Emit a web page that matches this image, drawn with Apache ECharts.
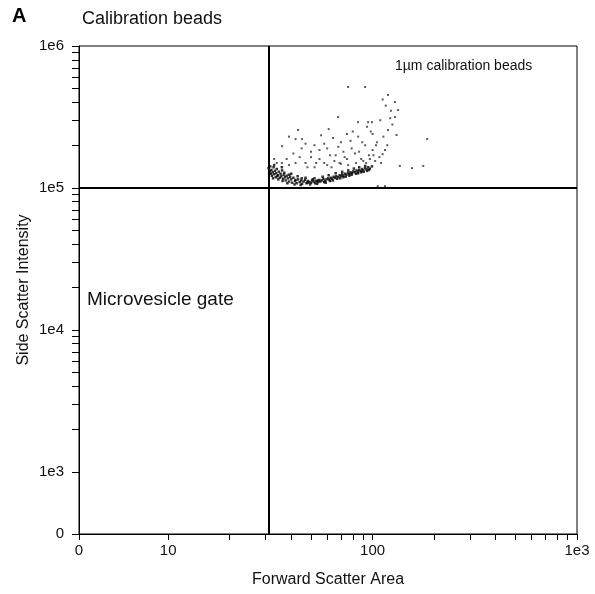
<!DOCTYPE html>
<html>
<head>
<meta charset="utf-8">
<script src="https://cdn.jsdelivr.net/npm/echarts@6/dist/echarts.min.js"></script>
<style>html,body{margin:0;padding:0;background:#fff;}#c{width:595px;height:594px;}</style>
</head>
<body>
<div id="c"></div>
<script>
// ---- data (Forward Scatter Area, Side Scatter Intensity) ----
var xTickLabels = ['0', '10', '100', '1e3'];
var xTickValues = [0, 10, 100, 1000];
var yTickLabels = ['0', '1e3', '1e4', '1e5', '1e6'];
var yTickValues = [0, 1000, 10000, 100000, 1000000];
var gateFSC = 31;
var gateSSC = 100000;

var denseEvents = [
[31.0,138000],[31.5,131000],[31.8,126000],[32.0,134000],[32.2,122000],[32.5,129000],[32.8,140000],[33.0,125000],[33.3,132000],[33.6,119000],[33.8,127000],[34.0,136000],[34.5,123000],[34.8,130000],[35.2,118000],[35.5,126000],[35.8,121000],[36.1,133000],[36.5,116000],[36.8,124000],[37.3,119000],[37.6,113000],[38.0,122000],[38.6,117000],[39.0,111000],[39.5,120000],[40.0,115000],[40.4,109000],[41.0,118000],[41.8,112000],[42.5,108000],[43.2,115000],[44.0,110000],[44.8,113000],[45.2,107000],[46.0,111000],[46.8,114000],[47.5,108000],[48.3,112000],[49.0,110000],[50.0,109000],[50.6,113000],[51.5,111000],[52.3,108000],[53.0,112000],[54.1,110000],[55.0,114000],[55.5,111000],[56.6,113000],[57.5,116000],[58.6,112000],[59.5,115000],[60.6,117000],[61.5,114000],[62.5,118000],[63.4,116000],[64.5,120000],[65.5,118000],[66.5,121000],[67.8,119000],[69.0,123000],[70.0,121000],[71.0,125000],[72.0,122000],[73.3,126000],[74.5,124000],[75.9,128000],[77.0,125000],[78.0,129000],[79.4,127000],[80.5,131000],[82.0,129000],[83.5,133000],[84.9,130000],[86.0,134000],[87.5,132000],[88.9,136000],[90.0,133000],[91.9,138000],[93.5,135000],[95.1,140000],[97.0,137000],[99.3,142000],
[33.0,145000],[36.0,140000],[40.0,126000],[43.0,121000],[47.0,118000],[52.0,117000],[57.0,120000],[61.0,123000],[66.0,127000],[71.0,130000],[76.0,133000],[81.0,137000],[86.0,140000],[92.0,143000],
[31.2,128000],[34.2,121000],[37.0,128000],[39.0,124000],[42.0,114000],[45.0,117000],[48.0,109000],[51.0,115000],[54.0,113000],[58.0,110000],[62.0,112000],[67.0,116000],[72.0,119000],[77.0,122000],[83.0,126000],[88.0,129000],[94.0,132000],
[31.6,142000],[32.6,117000],[34.6,115000],[36.3,112000],[38.3,108000],[41.5,106000],[44.5,105000],[49.5,106000],[53.5,107000],[59.0,109000],[64.0,113000],[69.5,117000],[74.0,120000],[79.0,124000],[85.0,127000],[90.5,130000],[96.0,134000]
];

var sparseEvents = [
[75.9,514000],[91.9,514000],[119,452000],[128.8,403000],[133.3,354000],[128.8,316000],[67.8,316000],[84.9,291000],[95.1,291000],[99.3,291000],[43.2,256000],[42.0,221000],[45.2,221000],[36.1,197000],[185,221000],[136,143000],[156,138000],[177,143000],[106,103000],[115,103000],[119,256000],[131,236000],[115,185000],[112,173000],[105,210000],[100,240000],[109,300000],[123,350000],[112,420000],[38,160000],[41,175000],[45,190000],[50,165000],[55,185000],[58,205000],[62,170000],[65,155000],[68,195000],[72,180000],[75,160000],[78,215000],[82,175000],[88,160000],[92,200000],[96,170000],[100,185000],[103,155000],[108,165000],[53,150000],[60,145000],[70,148000],[34,150000],[48,140000],[56,235000],[64,225000],[80,250000],[85,230000],[90,155000],[98,250000],
[33,160000],[36,150000],[39,145000],[42,150000],[44,165000],[47,150000],[50,180000],[52,140000],[55,160000],[58,150000],[60,190000],[63,140000],[66,170000],[69,150000],[73,165000],[76,145000],[79,190000],[83,150000],[86,180000],[89,210000],[93,150000],[97,160000],[101,170000],[104,200000],[110,150000],[113,230000],[118,200000],[125,280000],[122,310000],[116,380000],[39,230000],[47,205000],[52,200000],[70,210000],[75,240000],[94,270000],[61,260000]
];

// ---- display transform (biexponential-like cytometry scales) ----
function fx(v) { return v >= 10 ? Math.log10(v) - 0.564 : v * 0.0436; }
function fy(v) { return v >= 1000 ? Math.log10(v) - 2.563 : v * 0.000437; }

function minorTicks(decades) {
  var out = [];
  decades.forEach(function (d) { for (var k = 1; k <= 9; k++) out.push(k * d); });
  return out;
}
var xTickPositions = [0].concat(minorTicks([10, 100]), [1000]).map(fx);
var yTickPositions = [0].concat(minorTicks([1000, 10000, 100000]), [1000000]).map(fy);

function toDisplay(arr) { return arr.map(function (p) { return [fx(p[0]), fy(p[1])]; }); }

function labelFor(val, values, labels, f) {
  for (var i = 0; i < values.length; i++) if (Math.abs(f(values[i]) - val) < 1e-6) return labels[i];
  return '';
}

var chart = echarts.init(document.getElementById('c'), null, { renderer: 'canvas' });
var font = 'Liberation Sans, Arial, sans-serif';
chart.setOption({
  animation: false,
  backgroundColor: '#fff',
  grid: { left: 79, right: 18, top: 46, bottom: 60, show: true, borderColor: '#000', borderWidth: 1, backgroundColor: 'transparent' },
  xAxis: {
    type: 'value', min: 0, max: fx(1000),
    name: 'Forward Scatter Area', nameLocation: 'middle', nameGap: 38,
    nameTextStyle: { color: '#111', fontSize: 16, fontFamily: font },
    axisLine: { show: true, onZero: false, lineStyle: { color: '#000', width: 1 } },
    axisTick: { show: true, length: 6, customValues: xTickPositions, lineStyle: { color: '#000' } },
    axisLabel: { color: '#111', fontSize: 15, fontFamily: font, margin: 9,
      customValues: xTickValues.map(fx),
      formatter: function (v) { return labelFor(v, xTickValues, xTickLabels, fx); } },
    splitLine: { show: false }
  },
  yAxis: {
    type: 'value', min: 0, max: fy(1000000),
    name: 'Side Scatter Intensity', nameLocation: 'middle', nameGap: 47, nameRotate: 90,
    nameMoveOverlap: false,
    nameTextStyle: { color: '#111', fontSize: 16, fontFamily: font },
    axisLine: { show: true, onZero: false, lineStyle: { color: '#000', width: 1 } },
    axisTick: { show: true, length: 7, customValues: yTickPositions, lineStyle: { color: '#000' } },
    axisLabel: { color: '#111', fontSize: 15, fontFamily: font, margin: 15,
      customValues: yTickValues.map(fy),
      formatter: function (v) { return labelFor(v, yTickValues, yTickLabels, fy); } },
    splitLine: { show: false }
  },
  series: [
    {
      type: 'scatter', name: 'sparse', symbol: 'rect', symbolSize: 2,
      itemStyle: { color: '#333' },
      data: toDisplay(sparseEvents)
    },
    {
      type: 'scatter', name: 'dense', symbol: 'rect', symbolSize: 2.5,
      itemStyle: { color: '#000' },
      data: toDisplay(denseEvents),
      markLine: {
        silent: true, symbol: 'none', label: { show: false },
        lineStyle: { color: '#000', width: 2, type: 'solid' },
        data: [ { xAxis: fx(gateFSC) }, { yAxis: fy(gateSSC) } ]
      }
    }
  ],
  graphic: [
    { type: 'text', left: 12, top: 6, style: { text: 'A', font: 'bold 20px ' + font, fill: '#000' } },
    { type: 'text', left: 82, top: 10, style: { text: 'Calibration beads', font: '18px ' + font, fill: '#111' } },
    { type: 'text', left: 87, top: 290, style: { text: 'Microvesicle gate', font: '19px ' + font, fill: '#111' } },
    { type: 'text', left: 395, top: 59, style: { text: '1µm calibration beads', font: '14px ' + font, fill: '#111' } }
  ]
});
</script>
</body>
</html>
